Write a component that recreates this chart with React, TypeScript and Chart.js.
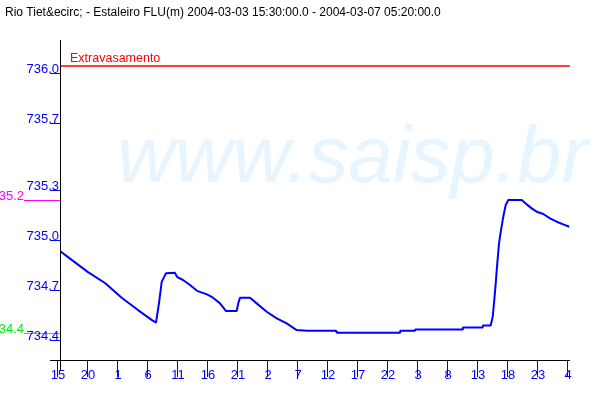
import React, { useEffect, useRef } from "react";
import { Chart, registerables } from "chart.js";

Chart.register(...registerables);

const titleText = "Rio Tiet&ecirc; - Estaleiro FLU(m) 2004-03-03 15:30:00.0 - 2004-03-07 05:20:00.0";
// hours since 2004-03-03 00:00
const timeHours = [15.5, 17.5, 20.17, 23.0, 25.83, 28.5, 30.83, 31.5, 32.0, 32.45, 33.17, 34.67, 35.0, 36.0, 37.17, 38.33, 40.0, 41.0, 42.17, 43.17, 44.95, 45.22, 45.5, 47.17, 48.28, 49.95, 51.62, 53.28, 54.95, 56.62, 61.5, 61.62, 72.17, 72.2, 74.67, 74.7, 82.62, 82.65, 85.95, 86.0, 87.28, 87.62, 87.88, 88.12, 88.38, 88.67, 89.0, 89.38, 89.78, 90.22, 92.45, 93.28, 94.12, 94.95, 96.05, 97.17, 98.28, 99.38, 100.38];
const levels = [734.892, 734.838, 734.766, 734.701, 734.611, 734.539, 734.479, 734.464, 734.581, 734.708, 734.76, 734.762, 734.738, 734.719, 734.689, 734.654, 734.633, 734.613, 734.579, 734.533, 734.533, 734.581, 734.613, 734.613, 734.579, 734.529, 734.489, 734.459, 734.419, 734.415, 734.415, 734.403, 734.403, 734.415, 734.415, 734.423, 734.423, 734.435, 734.435, 734.447, 734.447, 734.499, 734.599, 734.699, 734.819, 734.938, 735.018, 735.098, 735.168, 735.198, 735.198, 735.172, 735.148, 735.128, 735.114, 735.088, 735.068, 735.052, 735.038];
const yTickValues = [736.0, 735.7, 735.3, 735.0, 734.7, 734.4];
const yTickLabels = ["736.0", "735.7", "735.3", "735.0", "734.7", "734.4"];
const xTickHours = [15, 20, 25, 30, 35, 40, 45, 50, 55, 60, 65, 70, 75, 80, 85, 90, 95, 100];
const xTickLabels = ["15", "20", "1", "6", "11", "16", "21", "2", "7", "12", "17", "22", "3", "8", "13", "18", "23", "4"];
const overflowLevel = 736.0;
const overflowLabel = "Extravasamento";
const alertLevel = 735.2;
const alertLabel = "735.2";
const attentionLevel = 734.4;
const attentionLabel = "734.4";
const watermark = "www.saisp.br";

const FONT = '"Liberation Sans", Arial, sans-serif';

const decorPlugin = {
  id: "decor",
  beforeDatasetsDraw(chart: any) {
    const ctx = chart.ctx;
    ctx.save();
    ctx.font = `italic 80px ${FONT}`;
    ctx.fillStyle = "rgb(230,245,255)";
    ctx.textAlign = "left";
    ctx.textBaseline = "alphabetic";
    ctx.fillText(watermark, 117, 182);
    ctx.restore();
  },
  afterDatasetsDraw(chart: any) {
    const ctx = chart.ctx;
    const xs = chart.scales.x;
    const ys = chart.scales.y;
    const area = chart.chartArea;
    ctx.save();
    // title
    ctx.font = `12px ${FONT}`;
    ctx.fillStyle = "#000";
    ctx.textAlign = "left";
    ctx.textBaseline = "alphabetic";
    ctx.fillText(titleText, 5, 16);

    // axes lines
    ctx.strokeStyle = "#000";
    ctx.lineWidth = 1;
    ctx.beginPath();
    ctx.moveTo(area.left + 0.5, 40);
    ctx.lineTo(area.left + 0.5, area.bottom + 10);
    ctx.moveTo(area.left - 10, area.bottom + 0.5);
    ctx.lineTo(area.right, area.bottom + 0.5);
    ctx.stroke();

    // overflow label
    const yOver = ys.getPixelForValue(overflowLevel);
    ctx.font = `12.5px ${FONT}`;
    ctx.fillStyle = "#ff0000";
    ctx.fillText(overflowLabel, area.left + 10, yOver - 4);

    // alert lines outside area
    const yAlert = ys.getPixelForValue(alertLevel);
    ctx.strokeStyle = "#ff00ff";
    ctx.beginPath();
    ctx.moveTo(24, Math.round(yAlert) + 0.5);
    ctx.lineTo(area.left, Math.round(yAlert) + 0.5);
    ctx.stroke();
    ctx.fillStyle = "#ff00ff";
    ctx.font = `13px ${FONT}`;
    ctx.textAlign = "right";
    ctx.fillText(alertLabel, 24, yAlert);

    const yAtt = ys.getPixelForValue(attentionLevel);
    ctx.strokeStyle = "#00ff00";
    ctx.beginPath();
    ctx.moveTo(24, Math.round(yAtt) + 0.5);
    ctx.lineTo(area.left, Math.round(yAtt) + 0.5);
    ctx.stroke();
    ctx.fillStyle = "#00ee00";
    ctx.fillText(attentionLabel, 24, yAtt);

    // y ticks
    ctx.strokeStyle = "#0000ff";
    ctx.fillStyle = "#0000ff";
    ctx.textAlign = "right";
    yTickValues.forEach((v, i) => {
      const py = Math.round(ys.getPixelForValue(v)) + 7;
      ctx.beginPath();
      ctx.moveTo(area.left - 10, py + 0.5);
      ctx.lineTo(area.left, py + 0.5);
      ctx.stroke();
      ctx.fillText(yTickLabels[i], area.left - 1, py);
    });

    // x ticks
    ctx.textAlign = "center";
    xTickHours.forEach((h, i) => {
      const px = Math.round(xs.getPixelForValue(h));
      ctx.beginPath();
      ctx.moveTo(px + 0.5, area.bottom);
      ctx.lineTo(px + 0.5, area.bottom + 17);
      ctx.stroke();
      ctx.fillText(xTickLabels[i], px + 1, area.bottom + 19);
    });
    ctx.restore();
  },
};

export default function App() {
  const ref = useRef<HTMLCanvasElement>(null);
  useEffect(() => {
    if (!ref.current) return;
    const chart = new Chart(ref.current, {
      type: "line",
      data: {
        datasets: [
          {
            data: timeHours.map((h, i) => ({ x: h, y: levels[i] })),
            borderColor: "#0000ff",
            borderWidth: 2,
            borderJoinStyle: "bevel",
            pointRadius: 0,
            tension: 0,
            fill: false,
          },
          {
            data: [
              { x: 15.5, y: overflowLevel },
              { x: 100.6, y: overflowLevel },
            ],
            borderColor: "#ff0000",
            borderWidth: 1.5,
            pointRadius: 0,
            fill: false,
          },
        ],
      },
      options: {
        responsive: false,
        animation: false,
        devicePixelRatio: 1,
        layout: { padding: { left: 60, right: 30, top: 40, bottom: 40 } },
        plugins: { legend: { display: false }, tooltip: { enabled: false }, title: { display: false } },
        scales: {
          x: { type: "linear", min: 15.5, max: 100.5, display: false },
          y: { type: "linear", min: 734.24, max: 736.156, display: false },
        },
      },
      plugins: [decorPlugin],
    } as any);
    return () => chart.destroy();
  }, []);
  return (
    <div style={{ position: "fixed", left: 0, top: 0, width: 600, height: 400, background: "#fff" }}>
      <canvas ref={ref} width={600} height={400} style={{ width: 600, height: 400 }} />
    </div>
  );
}
